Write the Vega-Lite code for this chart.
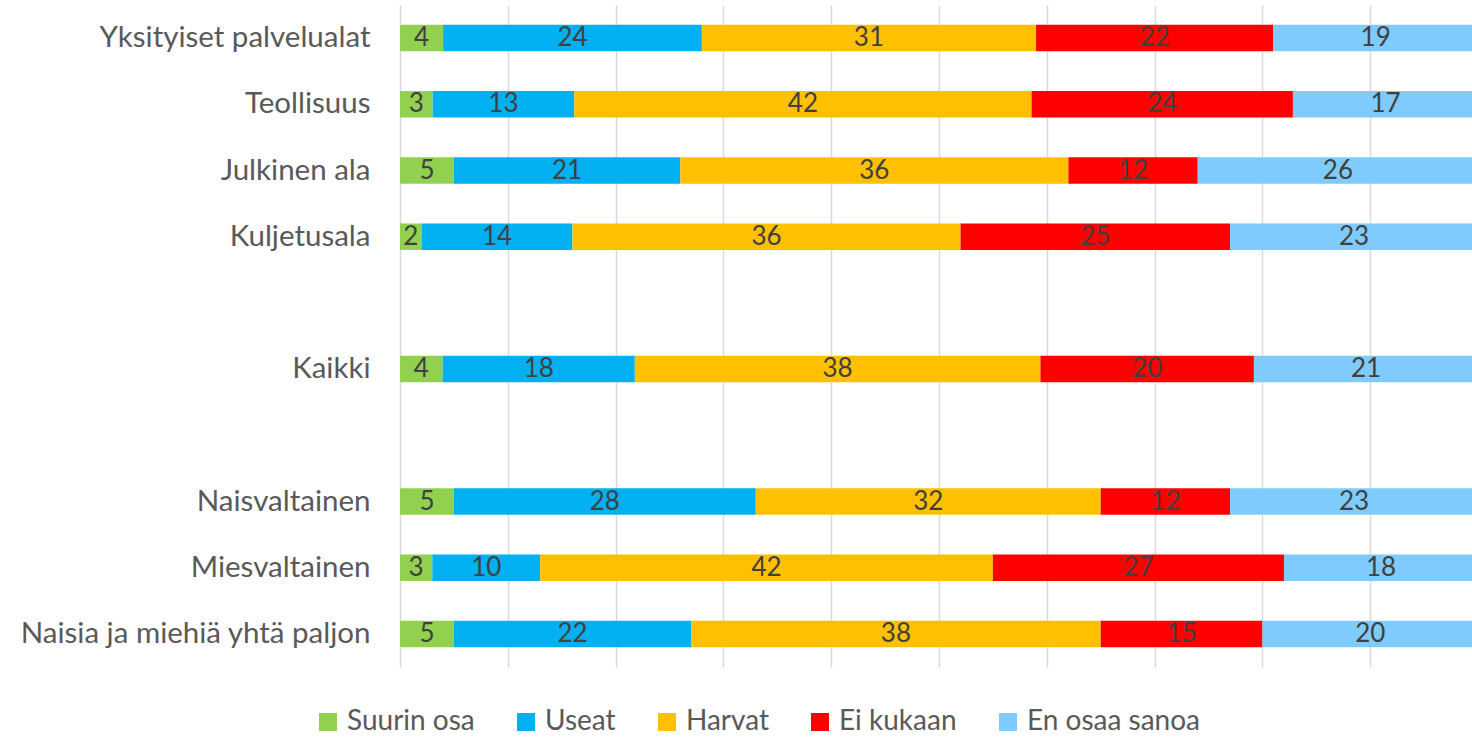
{
  "$schema": "https://vega.github.io/schema/vega-lite/v6.json",
  "autosize": {"type": "none"},
  "padding": {"left": 400, "top": 5, "right": 0, "bottom": 71},
  "width": 1072,
  "height": 662,
  "background": "white",
  "config": {"view": {"stroke": null}, "font": "Lato"},
  "data": {
    "values": [
      {"cat": "Yksityiset palvelualat", "series": "Suurin osa", "value": 4},
      {"cat": "Yksityiset palvelualat", "series": "Useat", "value": 24},
      {"cat": "Yksityiset palvelualat", "series": "Harvat", "value": 31},
      {"cat": "Yksityiset palvelualat", "series": "Ei kukaan", "value": 22},
      {"cat": "Yksityiset palvelualat", "series": "En osaa sanoa", "value": 19},
      {"cat": "Teollisuus", "series": "Suurin osa", "value": 3},
      {"cat": "Teollisuus", "series": "Useat", "value": 13},
      {"cat": "Teollisuus", "series": "Harvat", "value": 42},
      {"cat": "Teollisuus", "series": "Ei kukaan", "value": 24},
      {"cat": "Teollisuus", "series": "En osaa sanoa", "value": 17},
      {"cat": "Julkinen ala", "series": "Suurin osa", "value": 5},
      {"cat": "Julkinen ala", "series": "Useat", "value": 21},
      {"cat": "Julkinen ala", "series": "Harvat", "value": 36},
      {"cat": "Julkinen ala", "series": "Ei kukaan", "value": 12},
      {"cat": "Julkinen ala", "series": "En osaa sanoa", "value": 26},
      {"cat": "Kuljetusala", "series": "Suurin osa", "value": 2},
      {"cat": "Kuljetusala", "series": "Useat", "value": 14},
      {"cat": "Kuljetusala", "series": "Harvat", "value": 36},
      {"cat": "Kuljetusala", "series": "Ei kukaan", "value": 25},
      {"cat": "Kuljetusala", "series": "En osaa sanoa", "value": 23},
      {"cat": "Kaikki", "series": "Suurin osa", "value": 4},
      {"cat": "Kaikki", "series": "Useat", "value": 18},
      {"cat": "Kaikki", "series": "Harvat", "value": 38},
      {"cat": "Kaikki", "series": "Ei kukaan", "value": 20},
      {"cat": "Kaikki", "series": "En osaa sanoa", "value": 21},
      {"cat": "Naisvaltainen", "series": "Suurin osa", "value": 5},
      {"cat": "Naisvaltainen", "series": "Useat", "value": 28},
      {"cat": "Naisvaltainen", "series": "Harvat", "value": 32},
      {"cat": "Naisvaltainen", "series": "Ei kukaan", "value": 12},
      {"cat": "Naisvaltainen", "series": "En osaa sanoa", "value": 23},
      {"cat": "Miesvaltainen", "series": "Suurin osa", "value": 3},
      {"cat": "Miesvaltainen", "series": "Useat", "value": 10},
      {"cat": "Miesvaltainen", "series": "Harvat", "value": 42},
      {"cat": "Miesvaltainen", "series": "Ei kukaan", "value": 27},
      {"cat": "Miesvaltainen", "series": "En osaa sanoa", "value": 18},
      {"cat": "Naisia ja miehiä yhtä paljon", "series": "Suurin osa", "value": 5},
      {"cat": "Naisia ja miehiä yhtä paljon", "series": "Useat", "value": 22},
      {"cat": "Naisia ja miehiä yhtä paljon", "series": "Harvat", "value": 38},
      {"cat": "Naisia ja miehiä yhtä paljon", "series": "Ei kukaan", "value": 15},
      {"cat": "Naisia ja miehiä yhtä paljon", "series": "En osaa sanoa", "value": 20}
    ]
  },
  "transform": [
    {"stack": "value", "groupby": ["cat"], "offset": "normalize", "as": ["x0", "x1"]}
  ],
  "encoding": {
    "y": {
      "field": "cat",
      "type": "nominal",
      "scale": {
        "domain": ["Yksityiset palvelualat", "Teollisuus", "Julkinen ala", "Kuljetusala", " ", "Kaikki", "  ", "Naisvaltainen", "Miesvaltainen", "Naisia ja miehiä yhtä paljon"],
        "paddingInner": 0.6,
        "paddingOuter": 0.3
      },
      "axis": {
        "title": null,
        "domain": false,
        "ticks": false,
        "labelFontSize": 29.5,
        "labelColor": "#595959",
        "labelPadding": 30,
        "labelLimit": 0,
        "labelFont": "Lato"
      }
    }
  },
  "layer": [
    {
      "mark": {"type": "bar", "clip": true},
      "encoding": {
        "x": {
          "field": "x0",
          "type": "quantitative",
          "scale": {"domain": [0, 0.9944], "nice": false, "zero": false},
          "axis": {
            "title": null,
            "labels": false,
            "ticks": false,
            "domain": false,
            "grid": true,
            "gridColor": "#D9D9D9",
            "gridWidth": 1.5,
            "values": [0, 0.1, 0.2, 0.3, 0.4, 0.5, 0.6, 0.7, 0.8, 0.9]
          }
        },
        "x2": {"field": "x1"},
        "color": {
          "field": "series",
          "type": "nominal",
          "scale": {
            "domain": ["Suurin osa", "Useat", "Harvat", "Ei kukaan", "En osaa sanoa"],
            "range": ["#92D050", "#00B0F0", "#FFC000", "#FF0000", "#7FCBFE"]
          },
          "legend": {
            "orient": "none",
            "legendX": -86,
            "legendY": 703,
            "direction": "horizontal",
            "title": null,
            "symbolType": "square",
            "symbolSize": 324,
            "symbolStrokeWidth": 0,
            "symbolOpacity": 1,
            "labelFontSize": 28,
            "labelColor": "#595959",
            "labelFont": "Lato",
            "labelLimit": 0,
            "columnPadding": 37,
            "labelOffset": 5
          }
        }
      }
    },
    {
      "transform": [
        {"fold": ["x0", "x1"], "as": ["edge", "pos"]},
        {"aggregate": [{"op": "mean", "field": "pos", "as": "mid"}], "groupby": ["cat", "series", "value"]}
      ],
      "mark": {"type": "text", "color": "#404040", "fontSize": 26, "baseline": "middle", "font": "Lato"},
      "encoding": {
        "x": {"field": "mid", "type": "quantitative"},
        "text": {"field": "value", "type": "quantitative"}
      }
    }
  ]
}
